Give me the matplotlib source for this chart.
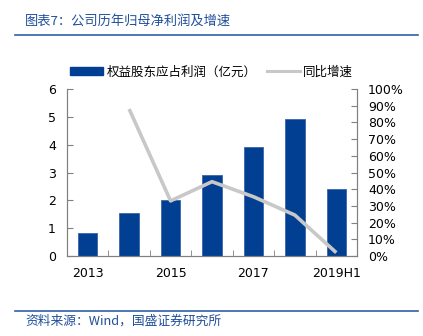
import matplotlib
matplotlib.use("Agg")
from matplotlib import pyplot as plt
from matplotlib.lines import Line2D
from matplotlib.patches import Patch
import numpy as np

categories = ["2013", "2014", "2015", "2016", "2017", "2018", "2019H1"]
profit = [0.82, 1.53, 2.01, 2.90, 3.93, 4.91, 2.40]
growth = [None, 88.0, 33.0, 44.5, 35.5, 24.5, 2.0]
shown_labels = ["2013", "", "2015", "", "2017", "", "2019H1"]

blue = "#003F91"
gray = "#C8C8C8"
axis_gray = "#808080"
cjk = ["Noto Sans CJK SC", "DejaVu Sans"]

plt.rcParams["font.family"] = ["DejaVu Sans", "Noto Sans CJK SC"]

fig = plt.figure(figsize=(4.23, 3.36), dpi=100)

# title + rules
fig.text(25 / 423, 1 - 21 / 336, "图表7：公司历年归母净利润及增速", family=cjk,
         fontsize=9.5, color="#1F4E9A", va="center", ha="left")
fig.add_artist(Line2D([15 / 423, 418 / 423], [1 - 35 / 336] * 2, color="#2F5FA8", lw=1.2))
fig.add_artist(Line2D([15 / 423, 418 / 423], [1 - 311 / 336] * 2, color="#2F5FA8", lw=1.2))
fig.text(25 / 423, 1 - 321 / 336, "资料来源：Wind，国盛证券研究所", family=cjk,
         fontsize=9.2, color="#1F4E9A", va="center", ha="left")

ax = fig.add_axes([67 / 423, 1 - 256 / 336, 290 / 423, 167 / 336])
x = np.arange(len(categories))
ax.bar(x, profit, width=0.47, color=blue, edgecolor="#3C64A8", linewidth=0.6, zorder=2)
ax.set_xlim(-0.5, len(categories) - 0.5)
ax.set_ylim(0, 6)
ax.set_yticks(range(0, 7))
ax.set_xticks(x)
ax.set_xticklabels(shown_labels)
ax.set_xticks(np.arange(-0.5, len(categories)), minor=True)
ax.tick_params(axis="x", which="major", length=0, pad=8, labelsize=9)
ax.tick_params(axis="x", which="minor", direction="in", length=4, color=axis_gray)
ax.tick_params(axis="y", direction="in", length=4, color=axis_gray, labelsize=9, pad=8)

ax2 = ax.twinx()
gx = [i for i, g in enumerate(growth) if g is not None]
gy = [g for g in growth if g is not None]
ax2.plot(gx, gy, color=gray, lw=2.6, solid_capstyle="butt", zorder=3)
ax2.set_ylim(0, 100)
ax2.set_yticks(range(0, 101, 10))
ax2.set_yticklabels([f"{v}%" for v in range(0, 101, 10)])
ax2.tick_params(axis="y", direction="in", length=4, color=axis_gray, labelsize=9, pad=8)

for a in (ax, ax2):
    a.spines["top"].set_visible(False)
    for s in ("left", "right", "bottom"):
        a.spines[s].set_color(axis_gray)
        a.spines[s].set_linewidth(0.8)

handles = [Patch(facecolor=blue, edgecolor=blue),
           Line2D([0], [0], color=gray, lw=2.2)]
fig.legend(handles, ["权益股东应占利润（亿元）", "同比增速"], loc="center",
           bbox_to_anchor=(0.5, 1 - 72 / 336), ncol=2, frameon=False,
           prop={"family": cjk, "size": 9}, handlelength=2.65, handleheight=0.55,
           columnspacing=0.8, handletextpad=0.3)

fig.savefig("out.png", dpi=100)
